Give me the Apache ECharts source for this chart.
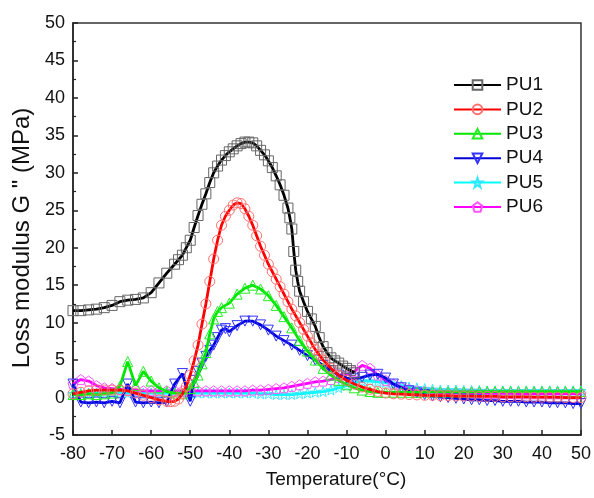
<!DOCTYPE html>
<html>
<head>
<meta charset="utf-8">
<script src="https://cdn.jsdelivr.net/npm/echarts@6/dist/echarts.min.js"></script>
<style>
html,body{margin:0;padding:0;background:#fff;}
#chart{width:594px;height:498px;}
</style>
</head>
<body>
<div id="chart"></div>
<script>
// Temperature (°C) grids
const baseTemps = [-80,-78,-76,-74,-72,-70,-68,-66,-64,-62,-60,-58,-56,-54,-52,-50,-48,-46,-44,-42,-40,-38,-36,-34,-32,-30,-28,-26,-24,-22,-20,-18,-16,-14,-12,-10,-8,-6,-4,-2,0,2,4,6,8,10,12,14,16,18,20,22,24,26,28,30,32,34,36,38,40,42,44,46,48,50];

const pu1Temp = [-80,-78,-76,-74,-72,-70,-68,-66,-64,-62,-60,-58,-56,-54,-53,-52,-51,-50,-49,-48,-47,-46,-45,-44,-43,-42,-41,-40,-39,-38,-37,-36,-35,-34,-33,-32,-31,-30,-29,-28,-27,-26,-25,-24.5,-24,-23.5,-23,-22.5,-22,-21,-20,-19,-18,-17,-16,-15,-14,-13,-12,-11,-10,-9,-8];
const pu1 = [11.6,11.6,11.7,11.8,12.0,12.3,12.8,13.0,13.1,13.3,14.0,15.3,16.6,17.8,18.4,19.0,20.0,21.0,22.7,24.3,25.8,27.2,28.7,30.0,30.9,31.7,32.3,32.8,33.2,33.6,33.9,34.1,34.1,34.0,33.6,33.0,32.4,31.6,30.7,29.6,28.4,27.0,25.3,24.0,22.5,19.5,17.0,15.5,14.2,12.8,11.5,10.5,9.5,8.0,6.8,6.0,5.3,4.9,4.6,4.2,3.9,3.6,3.3];

const pu2Temp = [-80,-78,-76,-74,-72,-70,-68,-66,-64,-62,-60,-58,-56,-55,-54,-53,-52,-51,-50,-49,-48,-47,-46,-45,-44,-43,-42,-41,-40,-39,-38,-37,-36,-35,-34,-33,-32,-31,-30,-29,-28,-27,-26,-25,-24,-23,-22,-21,-20,-19,-18,-17,-16,-14,-12,-10,-8,-6,-4,-2,0,2,4,6,8,10,12,14,16,18,20,22,24,26,28,30,32,34,36,38,40,42,44,46,48,50];
const pu2 = [0.5,0.7,0.9,1.0,1.0,1.0,1.0,0.9,0.6,0.3,0.0,-0.3,-0.5,-0.55,-0.5,-0.2,0.5,1.5,3.0,4.9,7.0,9.8,12.5,15.5,18.5,21.0,23.0,24.2,25.0,25.7,26.0,25.9,25.2,24.2,23.0,21.6,20.2,19.0,17.8,16.8,15.8,14.8,13.8,12.8,11.8,10.9,10.0,9.1,8.2,7.3,6.4,5.7,5.0,3.9,3.0,2.3,1.8,1.4,1.1,0.8,0.6,0.5,0.45,0.4,0.35,0.3,0.3,0.25,0.25,0.2,0.2,0.2,0.15,0.15,0.15,0.1,0.1,0.1,0.1,0.05,0.05,0.05,0.05,0.0,0.0,0.0];

const pu3Temp = [-80,-78,-76,-74,-72,-70,-68,-66,-64,-62,-60,-58,-56,-54,-52,-50,-49,-48,-47,-46,-45,-44,-43,-42,-40,-38,-36,-34,-32,-30,-28,-26,-24,-22,-20,-18,-16,-14,-12,-10,-8,-6,-4,-2,0,2,4,6,8,10,12,14,16,18,20,22,24,26,28,30,32,34,36,38,40,42,44,46,48,50];
const pu3 = [0.4,0.4,0.5,0.4,0.5,0.6,1.5,4.8,1.6,3.5,2.2,1.3,0.8,0.6,0.5,1.2,2.0,3.0,4.5,6.0,8.5,10.5,11.5,12.0,12.6,13.8,14.6,15.0,14.5,13.6,12.3,10.8,9.3,7.6,6.2,5.0,3.9,3.0,2.3,1.7,1.3,1.0,0.8,0.7,0.7,0.7,0.7,0.7,0.7,0.75,0.75,0.75,0.75,0.75,0.75,0.75,0.8,0.8,0.8,0.8,0.8,0.8,0.8,0.8,0.8,0.8,0.8,0.8,0.8,0.8];

const pu4Temp = [-80,-78,-76,-74,-72,-70,-68,-66,-64,-62,-60,-58,-56,-54,-52,-50,-49,-48,-47,-46,-45,-44,-43,-42,-41,-40,-38,-36,-34,-32,-30,-28,-26,-24,-22,-20,-18,-16,-14,-12,-10,-8,-6,-4,-2,0,2,4,6,8,10,12,14,16,18,20,22,24,26,28,30,32,34,36,38,40,42,44,46,48,50];
const pu4 = [1.8,-0.6,-0.7,-0.6,-0.7,-0.5,-0.7,1.8,-0.6,-0.7,-0.6,-0.7,-0.6,1.8,3.2,-0.5,2.3,3.5,4.6,5.5,6.3,7.0,8.0,9.0,9.2,8.8,9.6,10.2,10.2,9.7,9.0,8.2,7.6,7.0,6.3,5.6,5.0,4.3,3.6,3.0,2.6,2.5,2.7,3.0,3.1,2.6,1.8,1.3,0.9,0.6,0.4,0.2,0.1,0.0,-0.1,-0.2,-0.3,-0.3,-0.4,-0.4,-0.5,-0.5,-0.5,-0.6,-0.6,-0.6,-0.7,-0.7,-0.7,-0.8,-0.8];

const pu5 = [0.5,0.6,0.6,0.6,0.6,0.6,0.6,0.6,0.6,0.6,0.6,0.6,0.6,0.6,0.6,0.6,0.6,0.6,0.6,0.6,0.6,0.6,0.6,0.6,0.5,0.5,0.4,0.4,0.4,0.5,0.6,0.7,0.8,1.0,1.3,1.6,2.0,2.2,2.2,2.1,2.0,1.8,1.6,1.4,1.3,1.2,1.1,1.0,1.0,1.0,0.95,0.95,0.95,0.9,0.9,0.9,0.9,0.9,0.9,0.9,0.9,0.9,0.9,0.9,0.9,0.9];
const pu6 = [1.8,2.4,2.2,1.6,1.3,1.2,1.1,1.0,1.0,0.9,0.9,0.9,0.9,0.9,0.9,0.9,0.9,0.9,0.9,0.9,0.9,0.9,0.9,1.0,1.0,1.1,1.2,1.3,1.5,1.7,1.9,2.1,2.2,2.4,2.7,3.0,3.5,4.3,3.9,3.0,2.3,1.8,1.4,1.1,0.9,0.8,0.7,0.6,0.6,0.6,0.6,0.6,0.6,0.55,0.55,0.55,0.55,0.5,0.5,0.5,0.5,0.5,0.5,0.5,0.5,0.5];

const seriesNames = ['PU1','PU2','PU3','PU4','PU5','PU6'];
const xTicks = {min:-80, max:50, interval:10};
const yTicks = {min:-5, max:50, interval:5};

const FONT = 'Liberation Sans';
const pentagon = 'path://M0,-10 L9.51,-3.09 L5.88,8.09 L-5.88,8.09 L-9.51,-3.09 Z';
const star = 'path://M0,-10 L2.35,-3.24 L9.51,-3.09 L3.8,1.24 L5.88,8.09 L0,4 L-5.88,8.09 L-3.8,1.24 L-9.51,-3.09 L-2.35,-3.24 Z';

function pairs(ts, vals){ return ts.map((t,i)=>[t, vals[i]]); }

function mk(name, ts, vals, lineColor, markColor, symbol, rotate, z){
  return {
    name: name, type:'line', data: pairs(ts, vals),
    symbol: symbol, symbolSize: 10, symbolRotate: rotate || 0,
    showAllSymbol: true,
    lineStyle:{color:lineColor, width:2.8},
    itemStyle:{color:'rgba(255,255,255,0)', borderColor:markColor, borderWidth:1},
    emphasis:{disabled:true},
    z: z
  };
}

const chart = echarts.init(document.getElementById('chart'), null, {renderer:'canvas'});
chart.setOption({
  animation:false,
  backgroundColor:'#fff',
  textStyle:{fontFamily:FONT},
  grid:{left:73, right:13, top:23, bottom:63, show:true, borderColor:'#333', borderWidth:1.5, backgroundColor:'transparent'},
  legend:{
    data: seriesNames, orient:'vertical', left:448, top:70,
    itemWidth:47, itemHeight:12, itemGap:4.4,
    textStyle:{fontFamily:FONT, fontSize:19, color:'#111', lineHeight:20}
  },
  xAxis:{
    type:'value', min:xTicks.min, max:xTicks.max, interval:xTicks.interval,
    name:'Temperature(°C)', nameLocation:'middle', nameGap:35,
    nameTextStyle:{fontFamily:FONT, fontSize:19, color:'#111', padding:[0,0,0,18]},
    axisLine:{onZero:false, lineStyle:{color:'#222', width:1.5}},
    axisTick:{inside:true, length:5, lineStyle:{color:'#222', width:1.5}},
    axisLabel:{fontFamily:FONT, fontSize:18, color:'#111', margin:10},
    splitLine:{show:false}
  },
  yAxis:{
    type:'value', min:yTicks.min, max:yTicks.max, interval:yTicks.interval,
    name:'Loss modulus G " (MPa)', nameLocation:'middle', nameGap:36,
    nameTextStyle:{fontFamily:FONT, fontSize:24, color:'#111', padding:[0,18,0,0]},
    axisLine:{onZero:false, lineStyle:{color:'#222', width:1.5}},
    axisTick:{inside:true, length:5, lineStyle:{color:'#222', width:1.5}},
    minorTick:{show:true, splitNumber:2, length:3, lineStyle:{color:'#222', width:1.2}},
    axisLabel:{fontFamily:FONT, fontSize:18, color:'#111', margin:8},
    splitLine:{show:false}
  },
  series:[
    mk('PU5', baseTemps, pu5, '#00ffff', '#33e8ff', star, 0, 2),
    mk('PU6', baseTemps, pu6, '#ff00ff', '#ff55ff', pentagon, 0, 3),
    mk('PU4', pu4Temp, pu4, '#0000dd', '#3333ff', 'triangle', 180, 4),
    mk('PU3', pu3Temp, pu3, '#00e600', '#22ee22', 'triangle', 0, 5),
    mk('PU1', pu1Temp, pu1, '#000000', '#666666', 'rect', 0, 6),
    mk('PU2', pu2Temp, pu2, '#ff0000', '#ff7070', 'circle', 0, 7)
  ]
});
</script>
</body>
</html>
